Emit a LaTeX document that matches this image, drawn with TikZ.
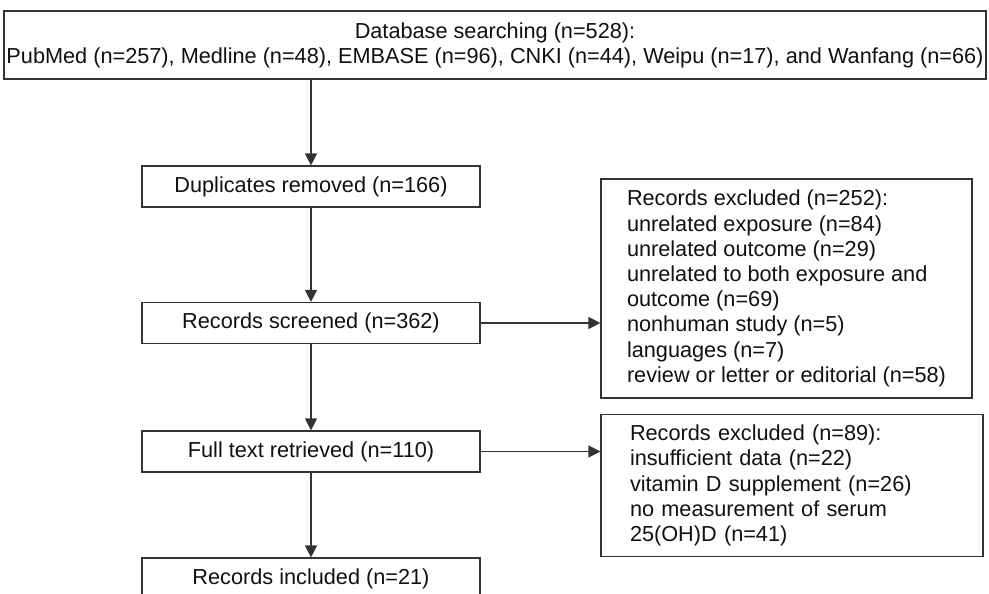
\documentclass[tikz,border=0pt]{standalone}
\usepackage{fontspec}
\setmainfont{Liberation Sans}
\usetikzlibrary{arrows.meta}
\definecolor{lncol}{HTML}{333333}
\definecolor{txcol}{HTML}{111111}
\tikzset{
  box/.style={draw=lncol, line width=1.2pt, rectangle, inner sep=0pt, text=txcol,
    font=\fontsize{21.7}{25.2}\selectfont},
  leftbox/.style={box, minimum width=338pt, minimum height=41pt, align=center},
  sidebox/.style={box, align=left, inner ysep=0pt},
  arr/.style={draw=lncol, line width=1.2pt, -{Triangle[length=12pt,width=12pt]}}
}
\begin{document}
\begin{tikzpicture}[x=1pt,y=-1pt]
\clip (0,0) rectangle (989,594);
\fill[white] (0,0) rectangle (989,594);
\node[box, minimum width=982pt, minimum height=68pt, align=center] (db) at (495,45)
  {Database searching (n=528):\\PubMed (n=257), Medline (n=48), EMBASE (n=96), CNKI (n=44), Weipu (n=17), and Wanfang (n=66)};
\node[leftbox] (dup) at (311,186.5) {Duplicates removed (n=166)};
\node[leftbox] (scr) at (311,323) {Records screened (n=362)};
\node[leftbox] (ft) at (311,451.5) {Full text retrieved (n=110)};
\node[leftbox] (inc) at (311,578.5) {Records included (n=21)};
\node[sidebox, minimum width=371pt, minimum height=219pt] (ex1) at (786.5,288.5)
  {Records excluded (n=252):\\unrelated exposure (n=84)\\unrelated outcome (n=29)\\unrelated to both exposure and\\outcome (n=69)\\nonhuman study (n=5)\\languages (n=7)\\review or letter or editorial (n=58)};
\node[sidebox, inner xsep=29pt, text width=324pt, minimum height=142pt] (ex2) at (792,485.5)
  {Records excluded (n=89):\\insufficient data (n=22)\\vitamin D supplement (n=26)\\no measurement of serum\\25(OH)D (n=41)};
\draw[arr] (db.south -| dup.north) -- (dup.north);
\draw[arr] (dup.south) -- (scr.north);
\draw[arr] (scr.south) -- (ft.north);
\draw[arr] (ft.south) -- (inc.north);
\draw[arr] (scr.east) -- (scr.east -| ex1.west);
\draw[arr] (ft.east) -- (ft.east -| ex2.west);
\end{tikzpicture}
\end{document}
